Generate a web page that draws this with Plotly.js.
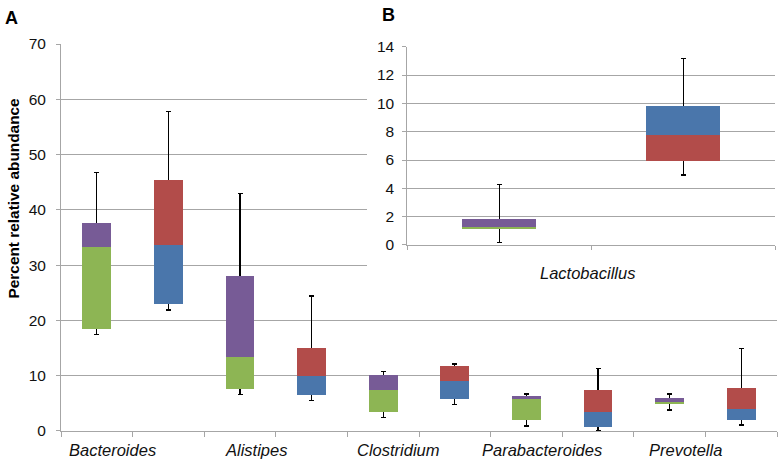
<!DOCTYPE html>
<html>
<head>
<meta charset="utf-8">
<script src="https://cdn.plot.ly/plotly-3.0.1.min.js"></script>
<style>
  html, body { margin: 0; padding: 0; background: #fff; }
  #chart { width: 782px; height: 465px; }
</style>
</head>
<body>
<div id="chart"></div>
<script>
// Panel A : five genera, two groups each (10 boxes)
var genera = ['Bacteroides', 'Alistipes', 'Clostridium', 'Parabacteroides', 'Prevotella'];
var minA = [17.4, 21.9, 6.6, 5.5, 2.5, 4.8, 0.9, 0.1, 3.8, 1.1];
var q1A  = [18.4, 22.9, 7.6, 6.5, 3.4, 5.8, 1.9, 0.8, 4.8, 2.0];
var medA = [33.3, 33.6, 13.3, 9.9, 7.4, 9.0, 5.8, 3.5, 5.2, 3.9];
var q3A  = [37.6, 45.4, 28.1, 15.0, 10.2, 11.8, 6.4, 7.5, 6.0, 7.8];
var maxA = [46.7, 57.8, 42.9, 24.4, 10.8, 12.1, 6.7, 11.3, 6.7, 14.9];

// Panel B : Lactobacillus
var genusB = ['Lactobacillus'];
var minB = [0.16, 4.94];
var q1B  = [1.15, 5.93];
var medB = [1.25, 7.79];
var q3B  = [1.84, 9.79];
var maxB = [4.29, 13.18];

var green = '#8db554', blue = '#4a76ab', purple = '#775b96', red = '#b24c4a';
var lowColA = [], upColA = [];
for (var i = 0; i < q1A.length; i++) {
  lowColA.push(i % 2 ? blue : green);
  upColA.push(i % 2 ? red : purple);
}
var lowColB = [green, red];
var upColB = [purple, blue];

function diff(a, b) { return a.map(function (v, i) { return +(v - b[i]).toFixed(3); }); }
function slots(n) { var s = []; for (var i = 0; i < n; i++) s.push(i + 0.5); return s; }

// a box = invisible bar up to Q1 (carries the whisker) + two stacked coloured bars
function boxTraces(x, mn, q1, md, q3, mx, lowCol, upCol, xa, ya) {
  var base = {
    type: 'bar', x: x, y: q1, width: 0.4, xaxis: xa, yaxis: ya,
    marker: {color: 'rgba(0,0,0,0)'}, hoverinfo: 'skip',
    error_y: {type: 'data', symmetric: false, array: diff(mx, q1), arrayminus: diff(q1, mn),
              color: '#000', thickness: 1.3, width: 2.5}
  };
  var low = {
    type: 'bar', x: x, y: diff(md, q1), width: 0.4, xaxis: xa, yaxis: ya,
    marker: {color: lowCol, line: {width: 0}}
  };
  var up = {
    type: 'bar', x: x, y: diff(q3, md), width: 0.4, xaxis: xa, yaxis: ya,
    marker: {color: upCol, line: {width: 0}}
  };
  return [base, low, up];
}

var data = boxTraces(slots(10), minA, q1A, medA, q3A, maxA, lowColA, upColA, 'x', 'y');
// white cover behind the inset
data.push({type: 'scatter', x: [], y: [], xaxis: 'x2', yaxis: 'y2', showlegend: false});
data = data.concat(boxTraces(slots(2), minB, q1B, medB, q3B, maxB, lowColB, upColB, 'x3', 'y3'));

var grid = '#a6a6a6';
var font = 'Liberation Sans, Arial, sans-serif';

var annotations = genera.map(function (g, k) {
  return {text: g, xref: 'x', yref: 'paper', x: 2 * k + 0.72, xanchor: 'center', y: -0.045,
          yanchor: 'middle', showarrow: false, font: {size: 16.5, style: 'italic', color: '#111'}};
});
annotations.push({text: genusB[0], xref: 'x3', yref: 'paper', x: 0.98, xanchor: 'center', y: 0.366,
                  yanchor: 'middle', showarrow: false, font: {size: 16.5, style: 'italic', color: '#111'}});
annotations.push({text: '<b>Percent relative abundance</b>', xref: 'paper', yref: 'paper',
                  x: -0.0659, xanchor: 'center', y: 0.5406, yanchor: 'middle', textangle: -90,
                  showarrow: false, font: {size: 15.4, color: '#000'}});
annotations.push({text: '<b>A</b>', xref: 'paper', yref: 'paper', x: -0.0687, xanchor: 'center',
                  y: 0.985, showarrow: false, font: {size: 18, color: '#000'}});
annotations.push({text: '<b>B</b>', xref: 'paper', yref: 'paper', x: 0.4545, xanchor: 'center',
                  y: 0.993, showarrow: false, font: {size: 18, color: '#000'}});

var layout = {
  width: 782, height: 465,
  margin: {l: 61, r: 0, t: 0, b: 34},
  paper_bgcolor: '#fff', plot_bgcolor: '#fff',
  barmode: 'stack', showlegend: false,
  font: {family: font, color: '#111', size: 15},
  xaxis: {domain: [0, 0.99307], range: [0, 10], tickvals: [0,1,2,3,4,5,6,7,8,9,10],
          showticklabels: false, ticks: 'outside', ticklen: 5, tickcolor: grid,
          showline: true, linecolor: grid, showgrid: false, zeroline: false, fixedrange: true},
  yaxis: {domain: [0, 0.8979], range: [0, 70], dtick: 10, ticks: 'outside', ticklen: 4,
          tickcolor: grid, showline: true, linecolor: grid, gridcolor: grid, zeroline: false,
          tickfont: {size: 15.5, color: '#111'}, ticklabelstandoff: 7, fixedrange: true},
  xaxis2: {domain: [0.4244, 1], anchor: 'y2', range: [0, 1], showgrid: false, showline: false,
           zeroline: false, showticklabels: false, ticks: ''},
  yaxis2: {domain: [0.3155, 1], anchor: 'x2', range: [0, 1], showgrid: false, showline: false,
           zeroline: false, showticklabels: false, ticks: ''},
  xaxis3: {domain: [0.4803, 0.9907], anchor: 'y3', range: [0, 2], tickvals: [0, 1, 2],
           showticklabels: false, ticks: 'outside', ticklen: 4, tickcolor: grid,
           showline: true, linecolor: grid, showgrid: false, zeroline: false},
  yaxis3: {domain: [0.4316, 0.8916], anchor: 'x3', range: [0, 14], dtick: 2, ticks: 'outside',
           ticklen: 4, tickcolor: grid, showline: true, linecolor: grid, gridcolor: grid,
           zeroline: false, tickfont: {size: 15.5, color: '#111'}, ticklabelstandoff: 5},
  annotations: annotations
};

Plotly.newPlot('chart', data, layout, {displayModeBar: false, staticPlot: true});
</script>
</body>
</html>
